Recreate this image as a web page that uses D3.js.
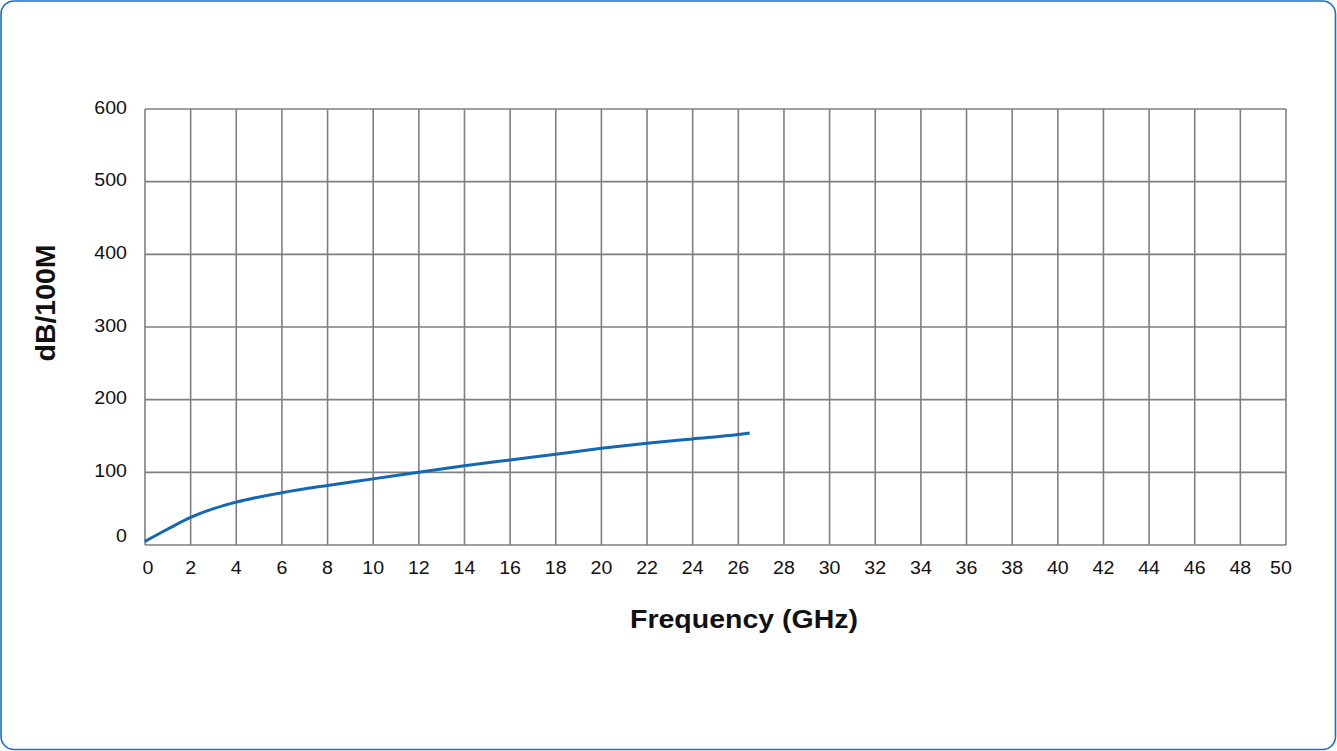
<!DOCTYPE html>
<html>
<head>
<meta charset="utf-8">
<script src="https://cdn.jsdelivr.net/npm/d3@7"></script>
<style>
  html, body { margin: 0; padding: 0; background: #fff; }
  svg { display: block; }
</style>
</head>
<body>
<svg id="chart" width="1337" height="751"></svg>
<script>
// Attenuation vs. frequency
const freqGHz = [0, 1, 2, 3, 4, 6, 8, 10, 12, 14, 16, 18, 20, 22, 24, 26, 26.5];
const attenuation = [5, 22, 38, 50, 59, 72, 82, 91, 100, 109, 117, 125, 133, 140, 146, 152, 154];
const xTicks = d3.range(0, 51, 2);
const yTicks = [0, 100, 200, 300, 400, 500, 600];
const xTitle = "Frequency (GHz)";
const yTitle = "dB/100M";

const svg = d3.select("#chart");
const W = 1337, H = 751;
const plot = { left: 145, right: 1286, top: 109, bottom: 545 };

// Outer rounded frame
svg.append("rect")
  .attr("x", 1).attr("y", 1)
  .attr("width", W - 2.5).attr("height", H - 2.5)
  .attr("rx", 13).attr("ry", 13)
  .attr("fill", "#fff")
  .attr("stroke", "#1a6fc2")
  .attr("stroke-width", 1.6);

const x = d3.scaleLinear().domain([0, 50]).range([plot.left, plot.right]);
const y = d3.scaleLinear().domain([0, 600]).range([plot.bottom, plot.top]);

const gridColor = "#7f7f7f";
const font = "'Liberation Sans', Arial, Helvetica, sans-serif";
const stretch = 1.12; // labels use a slightly wide face

// Vertical grid
svg.append("g")
  .selectAll("line")
  .data(xTicks)
  .join("line")
  .attr("x1", d => x(d)).attr("x2", d => x(d))
  .attr("y1", plot.top).attr("y2", plot.bottom)
  .attr("stroke", gridColor).attr("stroke-width", 1.6);

// Horizontal grid
svg.append("g")
  .selectAll("line")
  .data(yTicks)
  .join("line")
  .attr("x1", plot.left).attr("x2", plot.right)
  .attr("y1", d => y(d)).attr("y2", d => y(d))
  .attr("stroke", gridColor).attr("stroke-width", 1.6);

// X tick labels
svg.append("g")
  .selectAll("text")
  .data(xTicks)
  .join("text")
  .attr("transform", d => `translate(${x(d) + (d === 0 ? 3 : 0) - (d === 50 ? 5 : 0)},574) scale(${stretch},1)`)
  .attr("text-anchor", "middle")
  .attr("font-family", font)
  .attr("font-size", 17.5)
  .attr("fill", "#111")
  .text(d => d);

// Y tick labels
svg.append("g")
  .selectAll("text")
  .data(yTicks)
  .join("text")
  .attr("transform", d => `translate(127,${y(d) + (d === 0 ? -3 : 4.5)}) scale(${stretch},1)`)
  .attr("text-anchor", "end")
  .attr("font-family", font)
  .attr("font-size", 17.5)
  .attr("fill", "#111")
  .text(d => d);

// Attenuation curve
const pts = freqGHz.map((f, i) => [f, attenuation[i]]);
svg.append("path")
  .datum(pts)
  .attr("fill", "none")
  .attr("stroke", "#1467b3")
  .attr("stroke-width", 3)
  .attr("stroke-linecap", "butt")
  .attr("d", d3.line().x(d => x(d[0])).y(d => y(d[1])).curve(d3.curveMonotoneX));

// Axis titles
svg.append("text")
  .attr("x", 744).attr("y", 628)
  .attr("text-anchor", "middle")
  .attr("font-family", font)
  .attr("font-weight", "bold")
  .attr("font-size", 25)
  .attr("textLength", 228)
  .attr("lengthAdjust", "spacingAndGlyphs")
  .attr("fill", "#111")
  .text(xTitle);

svg.append("text")
  .attr("transform", "translate(55,303) rotate(-90)")
  .attr("text-anchor", "middle")
  .attr("font-family", font)
  .attr("font-weight", "bold")
  .attr("font-size", 27)
  .attr("textLength", 117)
  .attr("lengthAdjust", "spacingAndGlyphs")
  .attr("fill", "#111")
  .text(yTitle);
</script>
</body>
</html>
